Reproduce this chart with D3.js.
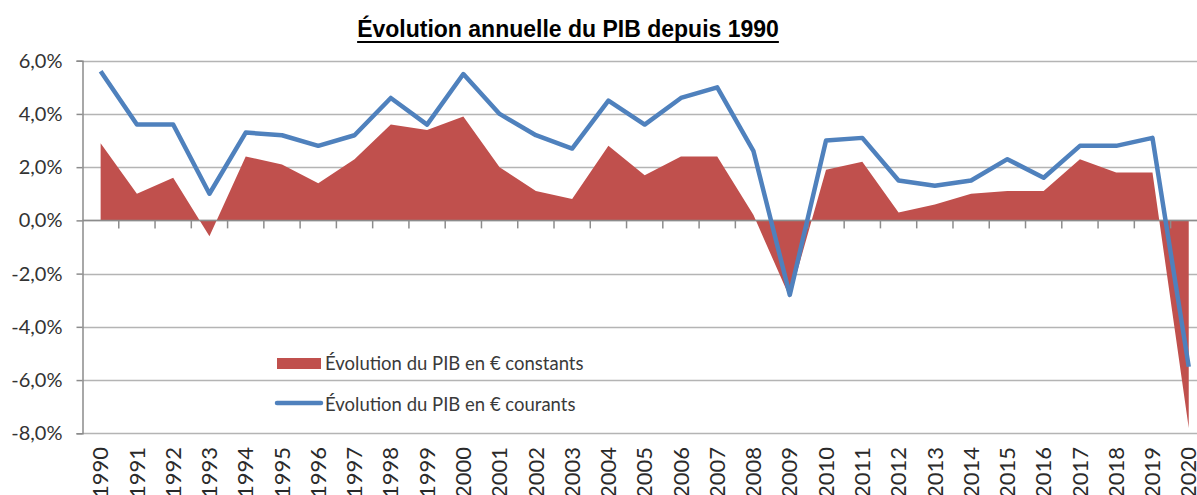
<!DOCTYPE html>
<html>
<head>
<meta charset="utf-8">
<script src="https://cdn.jsdelivr.net/npm/d3@7"></script>
<style>
  body { margin: 0; background: #fff; }
</style>
</head>
<body>
<script>
// data (annual change, %)
var years = ["1990","1991","1992","1993","1994","1995","1996","1997","1998","1999",
             "2000","2001","2002","2003","2004","2005","2006","2007","2008","2009",
             "2010","2011","2012","2013","2014","2015","2016","2017","2018","2019","2020"];

var constants = [2.9, 1.0, 1.6, -0.6, 2.4, 2.1, 1.4, 2.3, 3.6, 3.4,
                 3.9, 2.0, 1.1, 0.8, 2.8, 1.7, 2.4, 2.4, 0.2, -2.9,
                 1.9, 2.2, 0.3, 0.6, 1.0, 1.1, 1.1, 2.3, 1.8, 1.8, -7.8];

var courants = [5.6, 3.6, 3.6, 1.0, 3.3, 3.2, 2.8, 3.2, 4.6, 3.6,
                5.5, 4.0, 3.2, 2.7, 4.5, 3.6, 4.6, 5.0, 2.6, -2.8,
                3.0, 3.1, 1.5, 1.3, 1.5, 2.3, 1.6, 2.8, 2.8, 3.1, -5.5];

var yTicks = [-8, -6, -4, -2, 0, 2, 4, 6];

var legendLabels = ["Évolution du PIB en € constants", "Évolution du PIB en € courants"];

var W = 1197, H = 495;
// plot frame (right side runs past the window, as in the source)
var pLeft = 82.5, pTop = 60.7, pBottom = 433.3;
var step = 36.27;
var pRight = pLeft + step * years.length;

var svg = d3.select("body").append("svg")
    .attr("width", W)
    .attr("height", H);

var x = d3.scaleBand().domain(years).range([pLeft, pRight]).padding(0);
var y = d3.scaleLinear().domain([-8, 6]).range([pBottom, pTop]);
var cx = function(d, i) { return x(years[i]) + x.bandwidth() / 2; };

// gridlines
svg.append("g").selectAll("line")
  .data(yTicks)
  .enter().append("line")
    .attr("x1", pLeft)
    .attr("x2", pRight)
    .attr("y1", function(d) { return Math.round(y(d)) + 0.5; })
    .attr("y2", function(d) { return Math.round(y(d)) + 0.5; })
    .attr("stroke", "#b4b4b4")
    .attr("stroke-width", 1.5);

// y axis
var yAxis = svg.append("g")
    .attr("transform", "translate(" + pLeft + ",0)")
    .call(d3.axisLeft(y)
      .tickValues(yTicks)
      .tickSize(6)
      .tickPadding(14)
      .tickFormat(function(d) { return d.toFixed(1).replace(".", ",") + "%"; }));
yAxis.select(".domain").attr("stroke", "#8c8c8c").attr("stroke-width", 1.5);
yAxis.selectAll(".tick line").attr("stroke", "#8c8c8c").attr("stroke-width", 1.5);
yAxis.selectAll(".tick text")
    .attr("font-family", "Lato, 'Open Sans', sans-serif")
    .attr("font-size", 20)
    .attr("fill", "#333");

// area for constant euros
var area = d3.area()
    .x(cx)
    .y0(y(0))
    .y1(function(d) { return y(d); });

svg.append("path")
    .datum(constants)
    .attr("d", area)
    .attr("fill", "#c0504d");

// x axis on the zero line, ticks between categories
svg.append("line")
    .attr("x1", pLeft).attr("x2", pRight)
    .attr("y1", y(0)).attr("y2", y(0))
    .attr("stroke", "#8c8c8c")
    .attr("stroke-width", 1.5);

svg.append("g").selectAll("line")
  .data(years.slice(1))
  .enter().append("line")
    .attr("x1", function(d) { return x(d); })
    .attr("x2", function(d) { return x(d); })
    .attr("y1", y(0))
    .attr("y2", y(0) + 8)
    .attr("stroke", "#8c8c8c")
    .attr("stroke-width", 1.5);

// line for current euros
var line = d3.line()
    .x(cx)
    .y(function(d) { return y(d); });

svg.append("path")
    .datum(courants)
    .attr("d", line)
    .attr("fill", "none")
    .attr("stroke", "#4f81bd")
    .attr("stroke-width", 4.5)
    .attr("stroke-linejoin", "round");

// year labels
svg.append("g").selectAll("text")
  .data(years)
  .enter().append("text")
    .attr("transform", function(d) {
      return "translate(" + (x(d) + x.bandwidth() / 2) + ",447) rotate(-90)";
    })
    .attr("text-anchor", "end")
    .attr("dy", "0.35em")
    .attr("font-family", "Lato, 'Open Sans', sans-serif")
    .attr("font-size", 22)
    .attr("fill", "#2a2a2a")
    .text(function(d) { return d; });

// legend
var legend = svg.append("g");
legend.append("rect")
    .attr("x", 277).attr("y", 358)
    .attr("width", 44).attr("height", 11)
    .attr("fill", "#c0504d");
legend.append("line")
    .attr("x1", 277).attr("x2", 321)
    .attr("y1", 403).attr("y2", 403)
    .attr("stroke", "#4f81bd")
    .attr("stroke-width", 4.5)
    .attr("stroke-linecap", "round");
legend.selectAll("text")
  .data(legendLabels)
  .enter().append("text")
    .attr("x", 325)
    .attr("y", function(d, i) { return 363.5 + i * 41; })
    .attr("dy", "0.35em")
    .attr("font-family", "Lato, 'Open Sans', sans-serif")
    .attr("font-size", 18.5)
    .attr("fill", "#3a3a3a")
    .text(function(d) { return d; });

// title, underlined
var title = svg.append("text")
    .attr("x", 568)
    .attr("y", 37)
    .attr("text-anchor", "middle")
    .attr("font-family", "'Liberation Sans', Arial, sans-serif")
    .attr("font-weight", "bold")
    .attr("font-size", 23)
    .attr("fill", "#000")
    .text("Évolution annuelle du PIB depuis 1990");
var tb = title.node().getBBox();
svg.append("line")
    .attr("x1", tb.x).attr("x2", tb.x + tb.width)
    .attr("y1", 42).attr("y2", 42)
    .attr("stroke", "#000")
    .attr("stroke-width", 2);
</script>
</body>
</html>
